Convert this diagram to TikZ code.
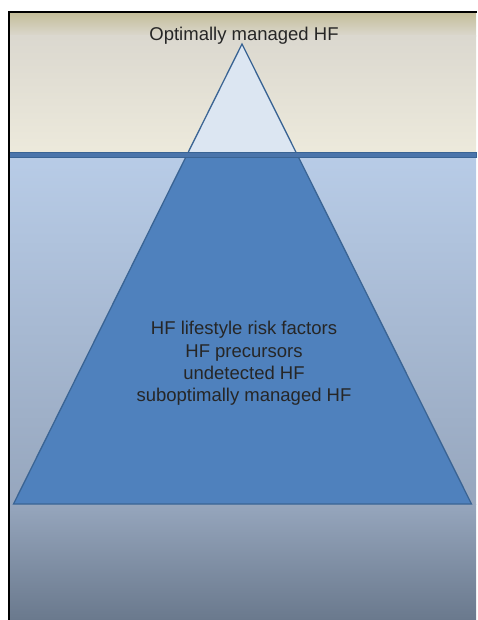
\documentclass[tikz,border=0pt]{standalone}
\usepackage{fontspec}
\setmainfont{Liberation Sans}
\definecolor{iceSkyTop}{HTML}{C3BD98}
\definecolor{iceSkyMid}{HTML}{DBD8CF}
\definecolor{iceSkyLow}{HTML}{EDEADC}
\definecolor{iceSeaTop}{HTML}{B8CCE7}
\definecolor{iceSeaMid}{HTML}{96A6BD}
\definecolor{iceSeaLow}{HTML}{6A798D}
\definecolor{iceTip}{HTML}{DCE6F2}
\definecolor{iceBody}{HTML}{4F81BD}
\definecolor{iceEdge}{HTML}{3A6494}
\definecolor{iceWater}{HTML}{4B75AB}
\definecolor{iceText}{HTML}{262626}
\tikzset{
  ice edge/.style={draw=iceEdge, line width=1.3pt, line join=miter},
  ice water/.style={fill=iceWater, draw=iceEdge, line width=0.8pt},
  ice frame/.style={draw=black, line width=2pt},
  ice label/.style={font=\fontsize{18.5}{22.3}\selectfont, text=iceText, inner sep=0pt},
}

\begin{document}
\begin{tikzpicture}[x=1pt,y=-1pt]
  \useasboundingbox (0,0) rectangle (477,620);
  % sky and sea
  \shade[top color=iceSkyTop,bottom color=iceSkyMid] (9,12) rectangle (476,36.5);
  \shade[top color=iceSkyMid,bottom color=iceSkyLow] (9,36) rectangle (476,155);
  \shade[top color=iceSeaTop,bottom color=iceSeaMid] (9,155) rectangle (476,504.5);
  \shade[top color=iceSeaMid,bottom color=iceSeaLow] (9,504) rectangle (476,620);
  % iceberg
  \coordinate (apex) at (242,44);
  \coordinate (baseL) at (13.5,504);
  \coordinate (baseR) at (471.5,504);
  \begin{scope}\clip (0,0) rectangle (477,155);\fill[iceTip] (apex)--(baseL)--(baseR)--cycle;\end{scope}
  \begin{scope}\clip (0,155) rectangle (477,620);\fill[iceBody] (apex)--(baseL)--(baseR)--cycle;\end{scope}
  \draw[ice edge] (apex)--(baseL)--(baseR)--cycle;
  \path[ice water] (9,152.5) rectangle (476,157.5);
  \draw[ice frame] (9,620)--(9,12)--(477,12);
  % labels
  \node[ice label,anchor=base] (tip) at (244,40.7) {Optimally managed HF};
  \node[ice label,align=center] (body) at (244,363.5) {HF lifestyle risk factors\\HF precursors\\undetected HF\\suboptimally managed HF};
\end{tikzpicture}
\end{document}
